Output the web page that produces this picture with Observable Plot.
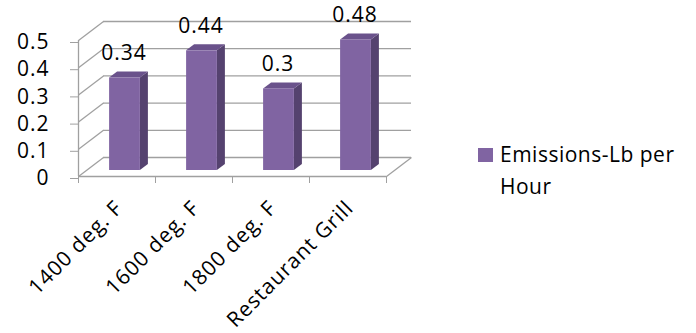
<!DOCTYPE html>
<html>
<head>
<meta charset="utf-8">
<script src="https://cdn.jsdelivr.net/npm/d3@7"></script>
<script src="https://cdn.jsdelivr.net/npm/@observablehq/plot@0.6"></script>
<style>
  body { margin: 0; background: #fff; font-family: "Open Sans", sans-serif; }
  #wrap { position: relative; width: 696px; height: 333px; overflow: hidden; }
  #chart { position: absolute; left: 0; top: 0; }
  #legend { position: absolute; left: 478px; top: 138px; display: flex; align-items: flex-start; }
  #legend .sw { width: 15px; height: 14px; margin-top: 10px; margin-right: 7px; flex: none; }
  #legend .lt { width: 200px; font-size: 21px; line-height: 32px; color: #000; letter-spacing: 0.5px; }
</style>
</head>
<body>
<div id="wrap">
  <div id="chart"></div>
  <div id="legend"><span class="sw"></span><span class="lt"></span></div>
</div>
<script>
// ---- data ----
const categories = ["1400 deg. F", "1600 deg. F", "1800 deg. F", "Restaurant Grill"];
const values = [0.34, 0.44, 0.3, 0.48];
const yTicks = [0, 0.1, 0.2, 0.3, 0.4, 0.5];
const seriesName = "Emissions-Lb per Hour";

// ---- styling / projection ----
const W = 440, H = 333, mL = 78, mR = 54, mT = 40, mB = 157;
const xDomain = [-0.5, categories.length - 0.5];
const yDomain = [0, 0.5];
const pxX = (W - mL - mR) / (xDomain[1] - xDomain[0]);
const pxY = (H - mT - mB) / (yDomain[1] - yDomain[0]);
const wallDX = 25 / pxX, wallDY = 19 / pxY;      // depth of the 3D box
const barDX = 8 / pxX, barDY = 6 / pxY;          // depth of a bar
const barOff = {dx: 8, dy: -6};                  // bars sit inside the box
const hw = 0.2;                                   // bar half width (in slots)
const grid = "#a0a0a0";
const cFront = "#8064a2", cSide = "#55426f", cTop = "#6a528b";
const fs = 21;

const bars = categories.map((c, i) => ({i, c, v: values[i]}));
const sideRows = bars.flatMap(d => [
  {i: d.i, x: d.i + hw, y1: 0, y2: d.v},
  {i: d.i, x: d.i + hw + barDX, y1: barDY, y2: d.v + barDY}
]);
const topRows = bars.flatMap(d => [
  {i: d.i, y: d.v, x1: d.i - hw, x2: d.i + hw},
  {i: d.i, y: d.v + barDY, x1: d.i - hw + barDX, x2: d.i + hw + barDX}
]);
const edges = categories.map((_, i) => i - 0.5).concat(categories.length - 0.5);

const chart = Plot.plot({
  width: W, height: H,
  marginLeft: mL, marginRight: mR, marginTop: mT, marginBottom: mB,
  x: {type: "linear", domain: xDomain},
  y: {type: "linear", domain: yDomain},
  style: {fontFamily: "Open Sans", fontSize: fs + "px", letterSpacing: "1px", overflow: "visible", background: "transparent", color: "#000"},
  marks: [
    // back wall gridlines
    Plot.ruleY(yTicks, {y: d => d + wallDY, x1: xDomain[0] + wallDX, x2: xDomain[1] + wallDX, stroke: grid, strokeWidth: 1.3}),
    // left wall depth lines
    Plot.link(yTicks, {x1: xDomain[0], y1: d => d, x2: xDomain[0] + wallDX, y2: d => d + wallDY, stroke: grid, strokeWidth: 1.3}),
    // floor front and right edges
    Plot.ruleY([0], {x1: xDomain[0], x2: xDomain[1], stroke: grid, strokeWidth: 1.3}),
    Plot.link([0], {x1: xDomain[1], y1: 0, x2: xDomain[1] + wallDX, y2: wallDY, stroke: grid, strokeWidth: 1.3}),
    // y axis line
    Plot.ruleX([xDomain[0]], {y1: yDomain[0], y2: yDomain[1], stroke: grid, strokeWidth: 1.3}),
    Plot.axisY(yTicks, {tickSize: 8, tickPadding: 21, tickFormat: d => String(d), stroke: grid, fill: "#000", fontSize: fs, dy: 2, label: null}),
    Plot.axisX(edges, {tickSize: 7, tickFormat: () => "", stroke: grid, label: null}),
    Plot.axisX(bars.map(d => d.i), {tickSize: 0, tickPadding: 28, dx: 2, tickRotate: -45, tickFormat: i => categories[i], fill: "#000", fontSize: fs, label: null}),
    // bars
    Plot.areaY(sideRows, {x: "x", y1: "y1", y2: "y2", z: "i", fill: cSide, ...barOff}),
    Plot.areaX(topRows, {y: "y", x1: "x1", x2: "x2", z: "i", fill: cTop, ...barOff}),
    Plot.rect(bars, {x1: d => d.i - hw, x2: d => d.i + hw, y1: 0, y2: "v", fill: cFront, ...barOff}),
    // value labels
    Plot.text(bars, {x: "i", y: "v", text: d => String(d.v), dx: barOff.dx - 1, dy: barOff.dy - 18, lineAnchor: "bottom", fill: "#000", fontSize: fs})
  ]
});
document.getElementById("chart").appendChild(chart);
document.querySelector("#legend .sw").style.background = cFront;
document.querySelector("#legend .lt").textContent = seriesName;
</script>
</body>
</html>
